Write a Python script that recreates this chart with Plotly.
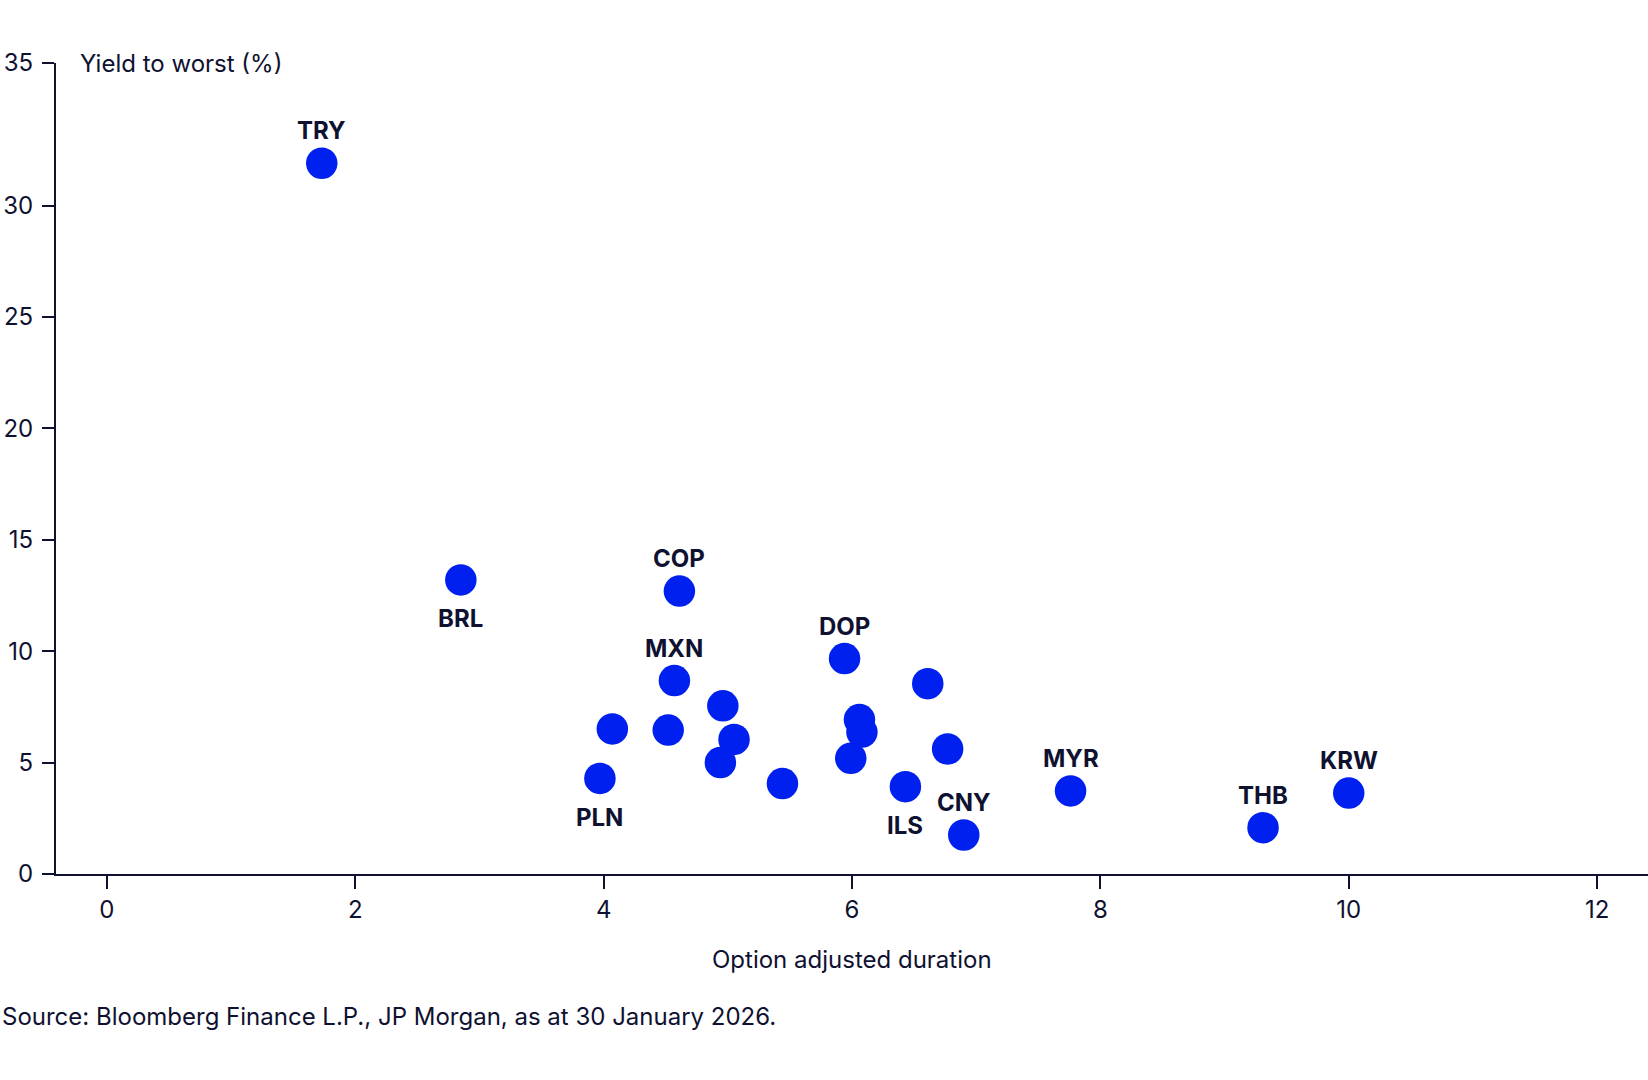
import plotly.graph_objects as go

# Data
currencies = ["TRY", "BRL", "COP", "MXN", "PLN", "", "", "", "", "", "",
              "DOP", "", "", "", "", "", "ILS", "CNY", "MYR", "THB", "KRW"]
duration = [1.73, 2.85, 4.61, 4.57, 3.97, 4.07, 4.52, 4.96, 5.05, 4.94, 5.44,
            5.94, 6.06, 6.08, 5.99, 6.61, 6.77, 6.43, 6.90, 7.76, 9.31, 10.00]
yield_to_worst = [31.9, 13.2, 12.7, 8.68, 4.29, 6.51, 6.46, 7.55, 6.04, 5.00, 4.06,
                  9.67, 6.93, 6.37, 5.19, 8.54, 5.61, 3.92, 1.75, 3.73, 2.08, 3.63]
label_side = ["above", "below", "above", "above", "below", "", "", "", "", "", "",
              "above", "", "", "", "", "", "below", "above", "above", "above", "above"]

x_ticks = [0, 2, 4, 6, 8, 10, 12]
y_ticks = [0, 5, 10, 15, 20, 25, 30, 36.4]
y_tick_text = ["0", "5", "10", "15", "20", "25", "30", "35"]

DOT = "#0020f0"
INK = "#0f1130"
FONT = "Inter"
FS = 24

fig = go.Figure()
fig.add_trace(go.Scatter(
    x=duration, y=yield_to_worst, mode="markers",
    marker=dict(size=31.5, color=DOT, line=dict(width=0)),
    cliponaxis=False, hoverinfo="skip", showlegend=False,
))

annotations = []
for name, xv, yv, side in zip(currencies, duration, yield_to_worst, label_side):
    if not name:
        continue
    annotations.append(dict(
        text=f"<b>{name}</b>", x=xv, y=yv, xref="x", yref="y",
        xanchor="center", yanchor="middle", showarrow=False,
        yshift=32.5 if side == "above" else -39,
        font=dict(family=FONT, size=FS, color=INK),
    ))

annotations += [
    dict(text="Yield to worst (%)", xref="paper", yref="paper", x=0.0138, y=1.0,
         xanchor="left", yanchor="middle", showarrow=False,
         font=dict(family=FONT, size=FS, color=INK)),
    dict(text="Option adjusted duration", xref="paper", yref="paper", x=0.5, y=-0.105,
         xanchor="center", yanchor="middle", showarrow=False,
         font=dict(family=FONT, size=FS, color=INK)),
    dict(text="Source: Bloomberg Finance L.P., JP Morgan, as at 30 January 2026.",
         xref="paper", yref="paper", x=-0.0352, y=-0.1756, xanchor="left",
         yanchor="middle", showarrow=False,
         font=dict(family=FONT, size=FS, color=INK)),
]

fig.update_layout(
    width=1648, height=1080,
    margin=dict(l=56, r=0, t=63, b=205.5),
    paper_bgcolor="white", plot_bgcolor="white",
    font=dict(family=FONT, size=FS, color=INK),
    xaxis=dict(range=[-0.41, 12.41], tickvals=x_ticks, showgrid=False, zeroline=False,
               showline=True, linecolor=INK, linewidth=2, ticks="outside",
               ticklen=13, tickwidth=1.5, tickcolor=INK, ticklabelstandoff=0,
               automargin=False,
               tickfont=dict(family=FONT, size=FS, color=INK)),
    yaxis=dict(range=[0, 36.4], tickvals=y_ticks, ticktext=y_tick_text, showgrid=False,
               zeroline=False, showline=True, linecolor=INK, linewidth=2, ticks="outside",
               ticklen=12, tickwidth=1.5, tickcolor=INK, ticklabelstandoff=4,
               automargin=False,
               tickfont=dict(family=FONT, size=FS, color=INK)),
    annotations=annotations,
)

fig.write_html("out.html", config={"displayModeBar": False},
               post_script="document.body.style.margin='0';")
